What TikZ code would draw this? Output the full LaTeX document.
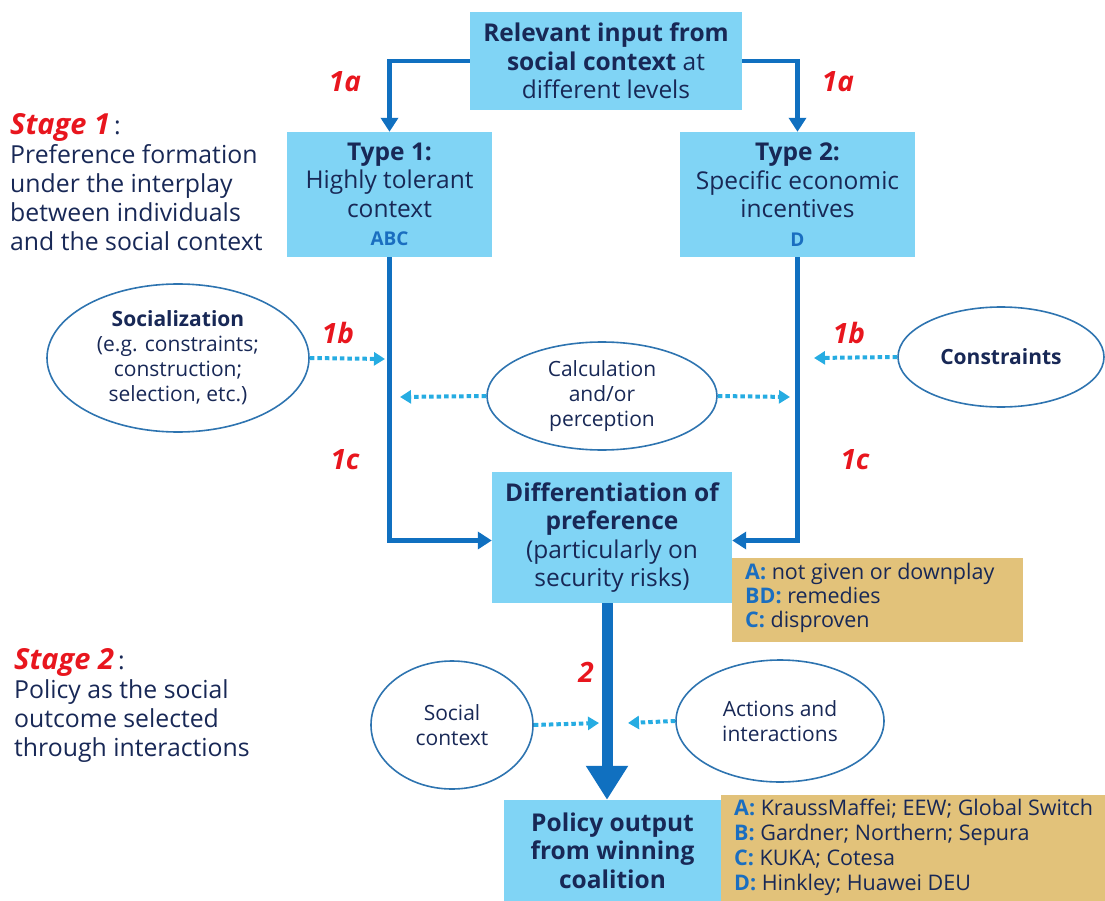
\documentclass[tikz,border=0pt]{standalone}
\usepackage{fontspec}
\setmainfont{Open Sans}
\usetikzlibrary{shapes.geometric,arrows.meta}

\definecolor{boxblue}{RGB}{128,212,245}
\definecolor{navy}{RGB}{24,40,86}
\definecolor{flowblue}{RGB}{16,112,192}
\definecolor{dotblue}{RGB}{38,172,226}
\definecolor{ringblue}{RGB}{46,116,176}
\definecolor{noteyellow}{RGB}{226,194,122}
\definecolor{stagered}{RGB}{232,22,30}
\definecolor{keyblue}{RGB}{26,110,192}

\newcommand{\keyl}[1]{\textcolor{keyblue}{\bfseries #1}}

\begin{document}
\begin{tikzpicture}[x=1pt,y=-1pt,
	box/.style={fill=boxblue, text=navy, align=center, inner sep=0pt,
		font=\fontsize{24.5}{28.5}\selectfont},
	note/.style={fill=noteyellow, minimum width=10pt, anchor=north west, inner sep=0pt},
	notetext/.style={anchor=north west, align=left, text=navy, inner sep=0pt,
		font=\fontsize{21.5}{24}\selectfont},
	bubble/.style={ellipse, draw=ringblue, line width=1.6pt, text=navy, align=center,
		inner sep=0pt, font=\fontsize{21}{25}\selectfont},
	flow/.style={draw=flowblue, line width=4.5pt, -{Triangle[length=14pt,width=17pt]}},
	mainflow/.style={draw=flowblue, line width=11pt, -{Triangle[length=34pt,width=40pt]}},
	hint/.style={draw=dotblue, line width=4pt, dash pattern=on 4.5pt off 3pt,
		-{Triangle[length=11pt,width=13pt]}},
	steplbl/.style={text=stagered, font=\fontsize{28}{28}\selectfont\bfseries\itshape},
	stage/.style={anchor=north west, align=left, text=navy, inner sep=0pt,
		font=\fontsize{24.8}{29}\selectfont}
]
	\useasboundingbox (0,0) rectangle (1105,901);

	% stage texts
	\node[stage] (st1) at (10,113) {{\color{stagered}\fontsize{29}{29}\selectfont\bfseries\itshape Stage 1}\,:\\
		Preference formation\\ under the interplay\\ between individuals\\ and the social context};
	\node[stage] (st2) at (14,648) {{\color{stagered}\fontsize{29}{29}\selectfont\bfseries\itshape Stage 2}\,:\\
		Policy as the social\\ outcome selected\\ through interactions};

	% boxes
	\node[box, minimum width=272pt, minimum height=98pt] (src) at (606,61)
		{\bfseries Relevant input from\\ {\bfseries social context} at\\ different levels};
	\node[box, minimum width=205pt, minimum height=125pt] (t1) at (389.5,194.5)
		{\bfseries Type 1:\\ Highly tolerant\\ context\\ {\fontsize{19}{22}\selectfont\keyl{ABC}}};
	\node[box, minimum width=235pt, minimum height=125pt] (t2) at (797.5,194.5)
		{\bfseries Type 2:\\ Specific economic\\ incentives\\ {\fontsize{19}{22}\selectfont\keyl{D}}};
	\node[box, minimum width=240pt, minimum height=131pt] (diff) at (612,537.5)
		{\bfseries Differentiation of\\ \bfseries preference\\ (particularly on\\ security risks)};
	\node[box, minimum width=217pt, minimum height=101pt] (pol) at (612.5,850.5)
		{\bfseries Policy output\\ \bfseries from winning\\ \bfseries coalition};

	% notes
	\node[note, minimum width=291pt, minimum height=84pt] (n1) at (732,558) {};
	\node[notetext] (n1t) at (745,563)
		{\keyl{A:} not given or downplay\\ \keyl{BD:} remedies\\ \keyl{C:} disproven};
	\node[note, minimum width=384pt, minimum height=106pt] (n2) at (721,795) {};
	\node[notetext, font=\fontsize{21.5}{25}\selectfont] (n2t) at (734,799)
		{\keyl{A:} KraussMaffei; EEW; Global Switch\\ \keyl{B:} Gardner; Northern; Sepura\\
		\keyl{C:} KUKA; Cotesa\\ \keyl{D:} Hinkley; Huawei DEU};

	% ellipses
	\node[bubble, minimum width=262pt, minimum height=148pt] (soc) at (178,358)
		{{\bfseries Socialization}\\ (e.g. constraints;\\ construction;\\ selection, etc.)};
	\node[bubble, minimum width=230pt, minimum height=108pt] (calc) at (602,396)
		{Calculation\\ and/or\\ perception};
	\node[bubble, minimum width=206pt, minimum height=100pt] (cons) at (1001,357)
		{\bfseries Constraints};
	\node[bubble, minimum width=162pt, minimum height=128pt] (sctx) at (452,725)
		{Social\\ context};
	\node[bubble, minimum width=208pt, minimum height=122pt] (act) at (780,721)
		{Actions and\\ interactions};

	% free ends of the dotted arrows
	\coordinate (socE) at (385,359);
	\coordinate (calcW) at (400,397);
	\coordinate (calcE) at (790,397);
	\coordinate (consW) at (814,358);
	\coordinate (sctxE) at (599,723);
	\coordinate (actW) at (628,723);

	% main flow
	\draw[flow] (src.west) -| (t1.north);
	\draw[flow] (src.east) -| (t2.north);
	\draw[flow] (t1.south) |- ([yshift=-3pt]diff.west);
	\draw[flow] (t2.south) |- ([yshift=-3pt]diff.east);
	\draw[mainflow] ([xshift=-5pt]diff.south) -- ([xshift=-5pt]diff.south |- pol.north);

	% influences
	\draw[hint] (soc.east) -- (socE);
	\draw[hint] (calc.west) -- (calcW);
	\draw[hint] (calc.east) -- (calcE);
	\draw[hint] (cons.west) -- (consW);
	\draw[hint] (sctx.east) -- (sctxE);
	\draw[hint] (act.west) -- (actW);

	% step labels
	\node[steplbl] (l1a) at (345,82) {1a};
	\node[steplbl] (r1a) at (838,82) {1a};
	\node[steplbl] (l1b) at (338,333) {1b};
	\node[steplbl] (r1b) at (849,333) {1b};
	\node[steplbl] (l1c) at (345,460) {1c};
	\node[steplbl] (r1c) at (855,460) {1c};
	\node[steplbl] (l2) at (586,672) {2};
\end{tikzpicture}
\end{document}
